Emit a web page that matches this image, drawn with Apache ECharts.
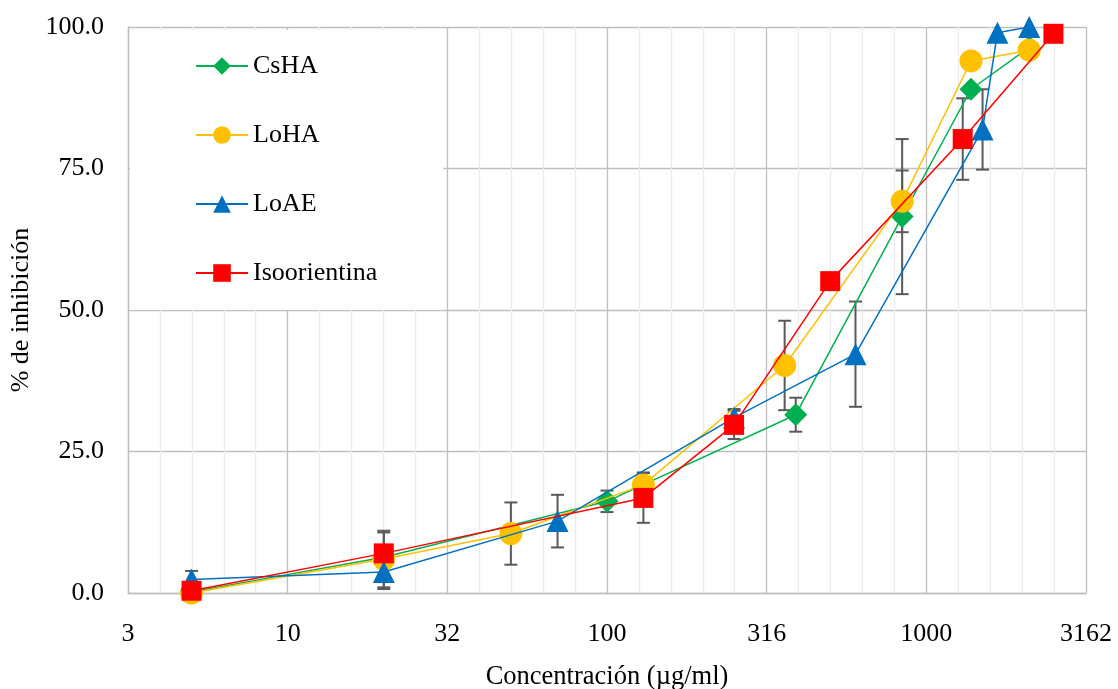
<!DOCTYPE html>
<html>
<head>
<meta charset="utf-8">
<title>% de inhibición</title>
<script src="https://cdn.jsdelivr.net/npm/echarts@6/dist/echarts.min.js"></script>
<style>
  html, body { margin: 0; padding: 0; background: #ffffff; }
  #chart { width: 1118px; height: 689px; }
</style>
</head>
<body>
<div id="chart"></div>
<script>
// Dose–response data: concentration (µg/ml), mean % inhibition and error (±)
const seriesNames = ['CsHA', 'LoHA', 'LoAE', 'Isoorientina'];

const concCsHA = [5, 20, 100, 390, 840, 1380, 2100];
const valCsHA  = [0.2, 6.3, 16.2, 31.5, 66.5, 89.0, 96.4];
const errCsHA  = [null, null, 1.9, 3.0, 13.7, null, null];

const concLoHA = [5, 20, 50, 130, 360, 840, 1380, 2100];
const valLoHA  = [0.0, 6.0, 10.5, 19.1, 40.2, 69.2, 94.0, 95.9];
const errLoHA  = [null, 5.0, 5.5, 2.2, 7.9, 5.45, null, null];

const concLoAE = [5, 20, 70, 250, 600, 1500, 1670, 2100];
const valLoAE  = [2.4, 3.7, 12.7, 31.0, 42.2, 81.9, 99.0, 100.0];
const errLoAE  = [1.5, 3.0, 4.65, 1.5, 9.3, 7.1, null, null];

const concIso = [5, 20, 130, 250, 500, 1300, 2500];
const valIso  = [0.4, 7.0, 16.8, 29.7, 55.1, 80.2, 98.8];
const errIso  = [null, 3.7, 4.4, 2.5, null, 7.2, null];

const yTicks = [0, 25, 50, 75, 100];

const FONT = 'Liberation Serif, "Times New Roman", serif';
const GRID_MAJOR = '#bfbfbf';
const GRID_MINOR = '#ececec';
const ERR_COLOR = '#595959';

const chart = echarts.init(document.getElementById('chart'), null, { renderer: 'canvas' });

function pairs(conc, vals) {
  return conc.map((c, i) => [c, vals[i]]);
}
function errTriples(conc, vals, errs) {
  return conc.map((c, i) => [c, vals[i], errs[i]]).filter(d => d[2] != null);
}

// Vertical error bar with caps
function renderErrorBar(params, api) {
  const x = api.value(0);
  const y = api.value(1);
  const e = api.value(2);
  const hi = api.coord([x, y + e]);
  const lo = api.coord([x, y - e]);
  const cap = 6.5;
  const style = { stroke: ERR_COLOR, lineWidth: 2 };
  return {
    type: 'group',
    children: [
      { type: 'line', shape: { x1: hi[0], y1: hi[1], x2: lo[0], y2: lo[1] }, style },
      { type: 'line', shape: { x1: hi[0] - cap, y1: hi[1], x2: hi[0] + cap, y2: hi[1] }, style },
      { type: 'line', shape: { x1: lo[0] - cap, y1: lo[1], x2: lo[0] + cap, y2: lo[1] }, style }
    ]
  };
}

const defs = [
  { name: 'CsHA', conc: concCsHA, vals: valCsHA, errs: errCsHA, color: '#00b050', symbol: 'diamond', size: 23 },
  { name: 'LoHA', conc: concLoHA, vals: valLoHA, errs: errLoHA, color: '#ffc000', symbol: 'circle', size: 23 },
  { name: 'LoAE', conc: concLoAE, vals: valLoAE, errs: errLoAE, color: '#0070c0', symbol: 'triangle', size: 22 },
  { name: 'Isoorientina', conc: concIso, vals: valIso, errs: errIso, color: '#ff0000', symbol: 'rect', size: 20 }
];

const series = [];
defs.forEach(d => {
  series.push({
    type: 'custom',
    name: d.name + ' error',
    xAxisIndex: 0,
    yAxisIndex: 0,
    z: 1,
    silent: true,
    renderItem: renderErrorBar,
    encode: { x: 0, y: 1 },
    data: errTriples(d.conc, d.vals, d.errs)
  });
});
defs.forEach((d, k) => {
  series.push({
    type: 'line',
    name: d.name,
    xAxisIndex: 0,
    yAxisIndex: 0,
    z: 2 + k,
    data: pairs(d.conc, d.vals),
    symbol: d.symbol,
    symbolSize: d.size,
    showAllSymbol: true,
    clip: false,
    lineStyle: { color: d.color, width: 1.5 },
    itemStyle: { color: d.color, borderColor: d.color, borderWidth: 0 },
    emphasis: { disabled: true }
  });
});

const option = {
  animation: false,
  backgroundColor: '#ffffff',
  textStyle: { fontFamily: FONT, color: '#000000' },
  grid: { left: 128, right: 32, top: 27, bottom: 96, containLabel: false, outerBoundsMode: 'none' },
  legend: {
    data: seriesNames,
    orient: 'vertical',
    left: 130,
    top: 30,
    padding: [23, 66, 24, 65],
    backgroundColor: '#ffffff',
    itemWidth: 52,
    itemHeight: 22,
    itemGap: 43,
    selectedMode: false,
    textStyle: { fontFamily: FONT, fontSize: 26, color: '#000000' }
  },
  xAxis: [
    {
      // concentration, logarithmic with ticks every half decade
      type: 'log',
      logBase: Math.sqrt(10),
      min: Math.sqrt(10),
      max: Math.pow(Math.sqrt(10), 7),
      position: 'bottom',
      axisLine: { show: true, lineStyle: { color: GRID_MAJOR, width: 1.3 } },
      axisTick: { show: false },
      splitLine: { show: false },
      axisLabel: {
        formatter: v => String(Math.round(v)),
        margin: 28,
        fontFamily: FONT,
        fontSize: 26,
        color: '#000000'
      },
      name: 'Concentración (µg/ml)',
      nameLocation: 'middle',
      nameGap: 71,
      nameTextStyle: { fontFamily: FONT, fontSize: 26.5, color: '#000000' }
    },
    {
      // log10 guide axis: major lines every 0.5 decade, minor every 0.1 decade
      type: 'value',
      min: 0.5,
      max: 3.5,
      interval: 0.1,
      position: 'top',
      axisLine: { show: false },
      axisTick: { show: false },
      axisLabel: { show: false },
      splitLine: {
        show: true,
        lineStyle: { color: [GRID_MAJOR, GRID_MINOR, GRID_MINOR, GRID_MINOR, GRID_MINOR], width: 1.3 }
      }
    }
  ],
  yAxis: {
    type: 'value',
    min: yTicks[0],
    max: yTicks[yTicks.length - 1],
    interval: yTicks[1] - yTicks[0],
    axisLine: { show: true, lineStyle: { color: GRID_MAJOR, width: 1.3 } },
    axisTick: { show: false },
    splitLine: { show: true, lineStyle: { color: GRID_MAJOR, width: 1.3 } },
    axisLabel: {
      formatter: v => v.toFixed(1),
      margin: 24,
      fontFamily: FONT,
      fontSize: 26,
      color: '#000000'
    },
    name: '% de inhibición',
    nameLocation: 'middle',
    nameRotate: 90,
    nameGap: 81,
    nameTextStyle: { fontFamily: FONT, fontSize: 26, color: '#000000' }
  },
  series
};

chart.setOption(option);
</script>
</body>
</html>
